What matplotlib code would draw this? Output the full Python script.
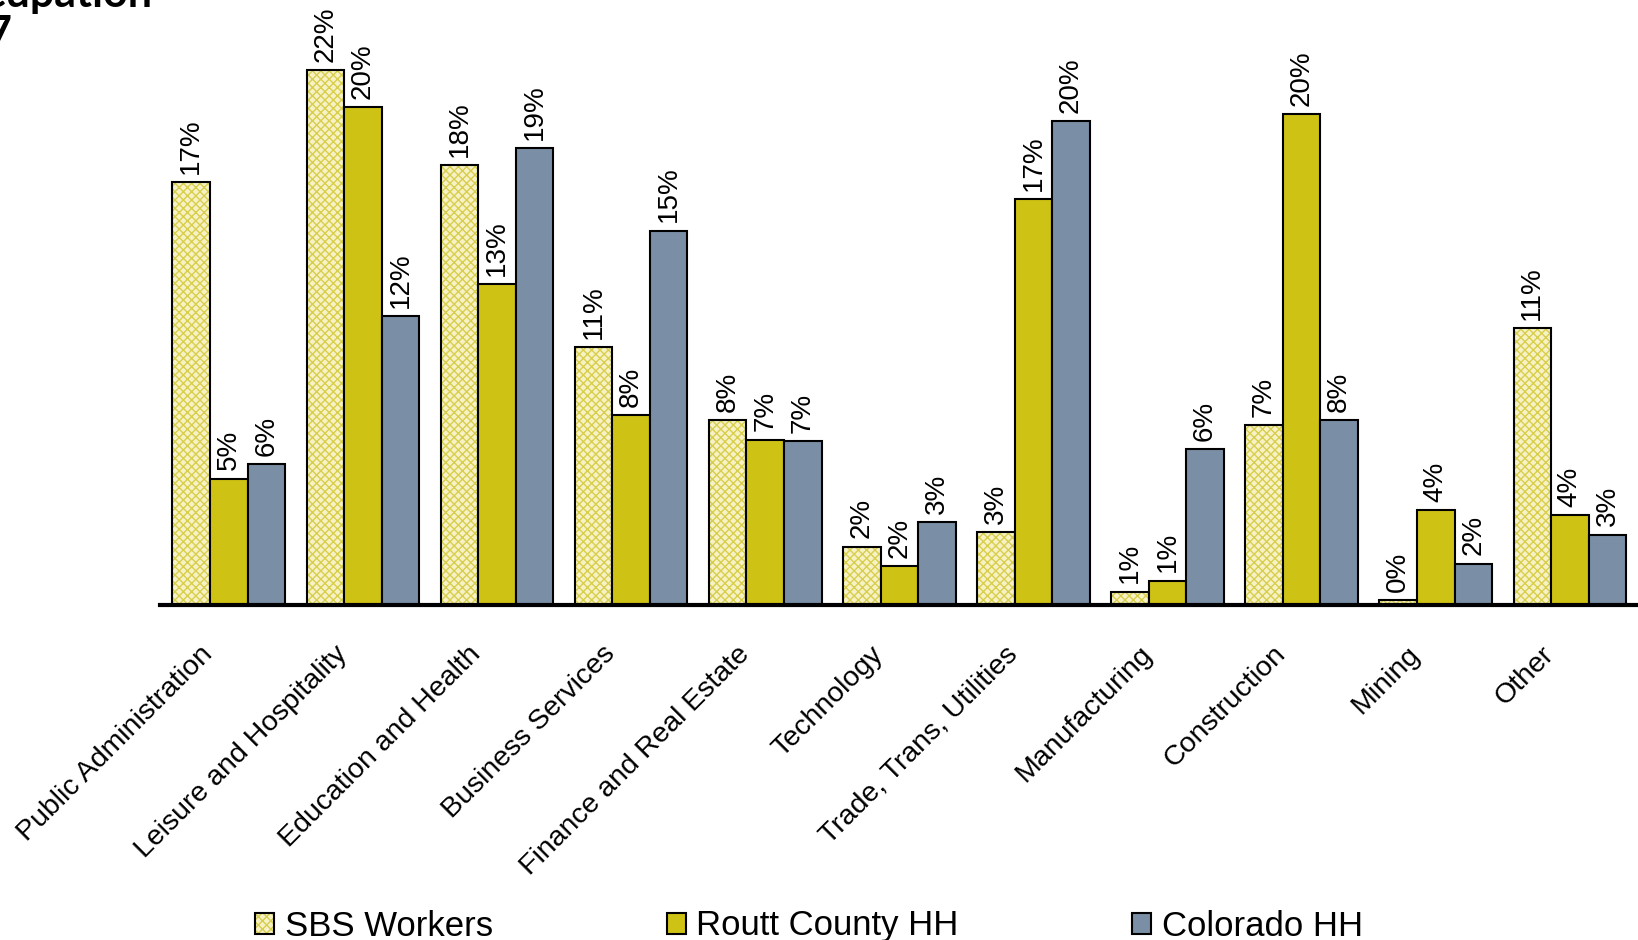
import numpy as np
import matplotlib
matplotlib.use("Agg")
import matplotlib.pyplot as plt
import matplotlib.patches as mpatches

plt.rcParams['font.family'] = ['Liberation Sans', 'DejaVu Sans']
plt.rcParams['hatch.linewidth'] = 1.0

categories = ["Public Administration", "Leisure and Hospitality", "Education and Health",
              "Business Services", "Finance and Real Estate", "Technology",
              "Trade, Trans, Utilities", "Manufacturing", "Construction", "Mining", "Other"]
series_names = ["SBS Workers", "Routt County HH", "Colorado HH"]
sbs = [17.4, 22.0, 18.1, 10.6, 7.6, 2.4, 3.0, 0.55, 7.4, 0.2, 11.4]
routt = [5.2, 20.5, 13.2, 7.8, 6.8, 1.6, 16.7, 1.0, 20.2, 3.9, 3.7]
colorado = [5.8, 11.9, 18.8, 15.4, 6.75, 3.4, 19.9, 6.4, 7.6, 1.7, 2.9]

sbs_face = '#f6f2c6'
sbs_hatch = '#d8ce4c'
routt_col = '#cec314'
co_col = '#7a8fa6'

fig = plt.figure(figsize=(16.38, 9.4), dpi=100)
ax = fig.add_axes([160 / 1638, 1 - 605 / 940, 1 - 160 / 1638, 605 / 940])

x = np.arange(len(categories))
w = 0.28

# hatched SBS bars: hatch first, black outline on top
ax.bar(x - w, sbs, w, color=sbs_face, edgecolor=sbs_hatch, hatch='xxxx', lw=0)
ax.bar(x - w, sbs, w, fill=False, edgecolor='black', lw=1.5)
ax.bar(x, routt, w, color=routt_col, edgecolor='black', lw=1.5)
ax.bar(x + w, colorado, w, color=co_col, edgecolor='black', lw=1.5)

for off, vals in [(-w, sbs), (0, routt), (w, colorado)]:
    for xi, v in zip(x, vals):
        ax.annotate(f"{v:.0f}%", (xi + off, v), xytext=(0, 6), textcoords='offset points',
                    rotation=90, ha='center', va='bottom', fontsize=20)

ax.set_xlim(-0.513, 10.508)
ax.set_ylim(0, 24.9)
for s in ['top', 'right', 'left']:
    ax.spines[s].set_visible(False)
ax.spines['bottom'].set_linewidth(3)
ax.set_yticks([])
ax.set_xticks(x)
ax.set_xticklabels(categories, rotation=45, ha='right', va='top', rotation_mode='anchor', fontsize=20.5)
ax.tick_params(axis='x', length=0, pad=26)
offset = matplotlib.transforms.ScaledTranslation(-29 / 100, 0, fig.dpi_scale_trans)
for lab in ax.get_xticklabels():
    lab.set_transform(lab.get_transform() + offset)

# title, mostly outside the visible area
fig.text(152 / 1638, 1 - 7 / 940, "Industry of Occupation", ha='right', va='baseline',
         fontsize=31, fontweight='bold', family=['Lato', 'DejaVu Sans'])
fig.text(12 / 1638, 1 - 47 / 940, "2017", ha='right', va='baseline',
         fontsize=31, fontweight='bold', family=['Lato', 'DejaVu Sans'])

handles = [
    (mpatches.Patch(facecolor=sbs_face, edgecolor=sbs_hatch, hatch='xxxx', lw=0),
     mpatches.Patch(fill=False, edgecolor='black', lw=1.5)),
    mpatches.Patch(facecolor=routt_col, edgecolor='black', lw=1.5),
    mpatches.Patch(facecolor=co_col, edgecolor='black', lw=1.5),
]
fig.legend(handles, series_names, ncol=3, loc='center left', bbox_to_anchor=(238 / 1638, 1 - 926 / 940),
           frameon=False, borderpad=0, handlelength=0.55, handleheight=0.55, handletextpad=0.3,
           columnspacing=5.0, prop={'family': ['Liberation Sans Narrow', 'Liberation Sans'], 'size': 25})

plt.savefig("out.png", dpi=100)
